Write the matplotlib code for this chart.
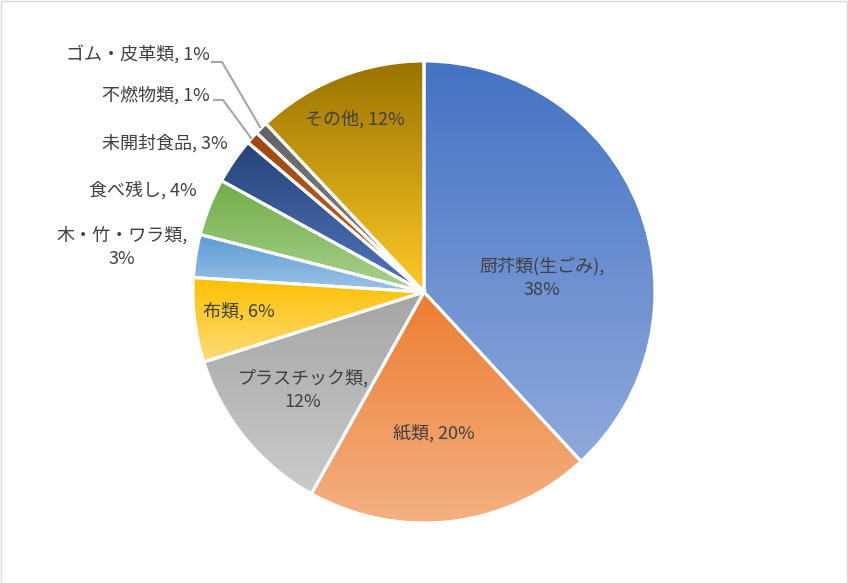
import matplotlib.pyplot as plt
import numpy as np
from matplotlib.colors import LinearSegmentedColormap
from matplotlib.patches import Rectangle

plt.rcParams['font.family'] = ['Noto Sans CJK JP', 'DejaVu Sans']

# data
labels = ['厨芥類(生ごみ)', '紙類', 'プラスチック類', '布類', '木・竹・ワラ類',
          '食べ残し', '未開封食品', '不燃物類', 'ゴム・皮革類', 'その他']
values = [38.1, 20.0, 12.0, 5.9, 3.0, 4.0, 3.2, 0.9, 0.9, 12.0]

# gradient top -> bottom per slice
top_cols = ['#4472C4', '#ED7D31', '#A5A5A5', '#FFC000', '#5B9BD5',
            '#70AD47', '#264478', '#9E480E', '#636363', '#997300']
bot_cols = ['#8FAADC', '#F4B183', '#CBCBCB', '#FFDC7A', '#9DC3E6',
            '#A9D18E', '#5275BE', '#C8642A', '#8C8C8C', '#FFC926']

W, H = 848, 583
fig = plt.figure(figsize=(W / 100, H / 100), dpi=100)
ax = fig.add_axes([0, 0, 1, 1])


def py(y):
    return H - y


wedges, _ = ax.pie(values, startangle=90, counterclock=False,
                   center=(424, py(292)), radius=231,
                   wedgeprops=dict(edgecolor='white', linewidth=2.2))

grad = np.linspace(0, 1, 256).reshape(-1, 1)
for i, w in enumerate(wedges):
    bb = w.get_path().get_extents()
    cm = LinearSegmentedColormap.from_list('g%d' % i, [bot_cols[i], top_cols[i]])
    im = ax.imshow(grad, cmap=cm, extent=[bb.x0, bb.x1, bb.y0, bb.y1],
                   origin='lower', aspect='auto', interpolation='bilinear',
                   zorder=1)
    im.set_clip_path(w)
    w.set_facecolor('none')
    w.set_zorder(3)

# data labels (pixel positions of the label centres)
lab_pos = [(542, 278), (434, 433), (303, 390), (239, 311), (122, 247),
           (143, 190), (165, 143), (156, 95), (138, 55), (355, 119)]
two_line = [0, 2, 4]
for i, (x, y) in enumerate(lab_pos):
    sep = ',\n' if i in two_line else ', '
    txt = '%s%s%d%%' % (labels[i], sep, round(values[i]))
    ax.text(x, py(y), txt, ha='center', va='center', fontsize=13,
            color='#404040', linespacing=1.4, zorder=5)

# leader lines for the two tiny slices
ax.plot([212, 222, 260], [py(62), py(62), py(127)], color='#A6A6A6', lw=1.5, zorder=4)
ax.plot([214, 223, 251], [py(100), py(100), py(138)], color='#A6A6A6', lw=1.5, zorder=4)

ax.set_xlim(0, W)
ax.set_ylim(0, H)
ax.set_aspect('equal')
ax.axis('off')

fig.patches.append(Rectangle((0.5 / W, 0.5 / H), 1 - 1.5 / W, 1 - 1.5 / H,
                             transform=fig.transFigure, fill=False,
                             edgecolor='#D9D9D9', lw=1))

fig.savefig('out.png', dpi=100)
